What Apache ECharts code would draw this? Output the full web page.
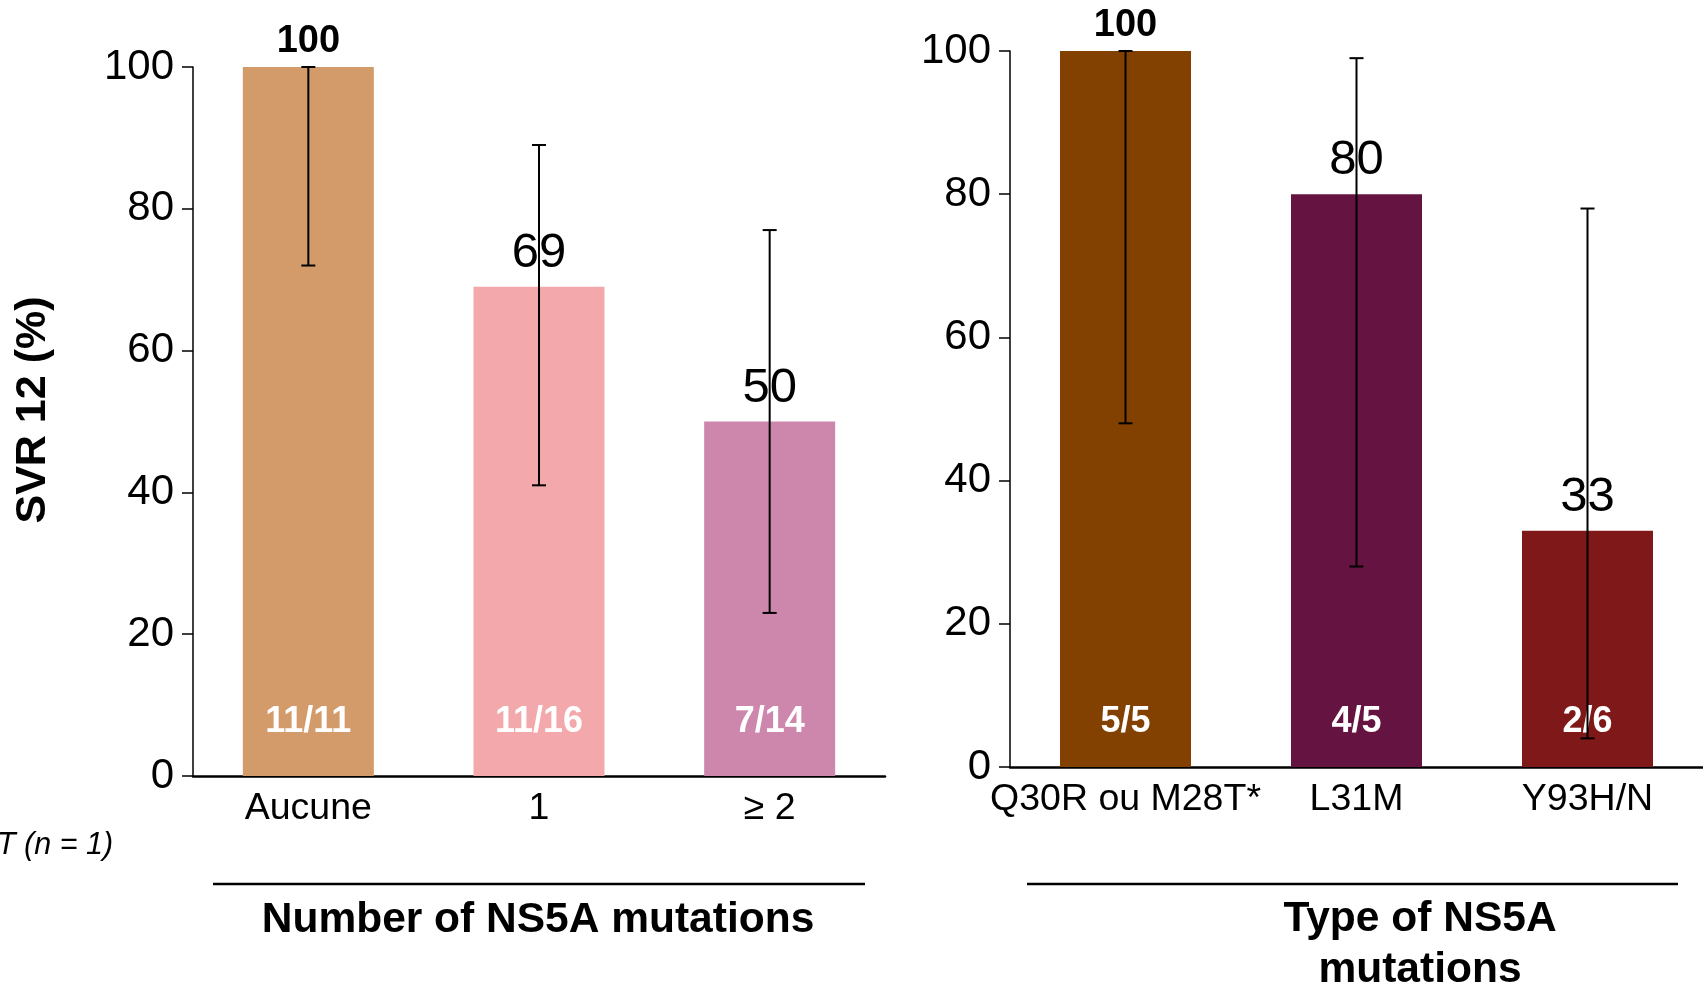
<!DOCTYPE html>
<html>
<head>
<meta charset="utf-8">
<title>SVR 12 by NS5A mutations</title>
<script src="https://cdn.jsdelivr.net/npm/echarts@6/dist/echarts.min.js"></script>
<style>
  html, body { margin: 0; padding: 0; background: #fff; }
  #chart { width: 1703px; height: 984px; }
</style>
</head>
<body>
<div id="chart"></div>
<script>
// left panel: number of NS5A mutations
const countCategories = ['Aucune', '1', '≥ 2'];
const countSvr = [100, 69, 50];
const countLow = [72, 41, 23];
const countHigh = [100, 89, 77];
const countFractions = ['11/11', '11/16', '7/14'];

// right panel: type of NS5A mutation
const typeCategories = ['Q30R ou M28T*', 'L31M', 'Y93H/N'];
const typeSvr = [100, 80, 33];
const typeLow = [48, 28, 4];
const typeHigh = [100, 99, 78];
const typeFractions = ['5/5', '4/5', '2/6'];

const yTicks = [0, 20, 40, 60, 80, 100];

const countColors = ['#D39B6A', '#F3A8AC', '#CD87AD'];
const typeColors = ['#834101', '#651340', '#7F1818'];

const FONT = '"Liberation Sans", Arial, sans-serif';

const chart = echarts.init(document.getElementById('chart'));

function errorBar(params, api) {
  const x = api.value(0);
  const lo = api.coord([x, api.value(1)]);
  const hi = api.coord([x, api.value(2)]);
  const w = 7;
  const style = { stroke: '#000', lineWidth: 2 };
  return {
    type: 'group',
    children: [
      { type: 'line', shape: { x1: hi[0], y1: hi[1], x2: lo[0], y2: lo[1] }, style },
      { type: 'line', shape: { x1: hi[0] - w, y1: hi[1], x2: hi[0] + w, y2: hi[1] }, style },
      { type: 'line', shape: { x1: lo[0] - w, y1: lo[1], x2: lo[0] + w, y2: lo[1] }, style }
    ]
  };
}

function yAxis(gridIndex) {
  return {
    gridIndex,
    type: 'value',
    min: yTicks[0],
    max: yTicks[yTicks.length - 1],
    interval: yTicks[1] - yTicks[0],
    axisLine: { show: true, lineStyle: { color: '#000', width: 1.5 } },
    axisTick: { show: true, length: 11, lineStyle: { color: '#000', width: 1.5 } },
    splitLine: { show: false },
    axisLabel: { fontSize: 42, color: '#000', margin: 19, fontFamily: FONT }
  };
}

function xAxis(gridIndex, data) {
  return {
    gridIndex,
    type: 'category',
    data,
    axisLine: { lineStyle: { color: '#000', width: 2.5 } },
    axisTick: { show: false },
    axisLabel: { interval: 0, hideOverlap: false, fontSize: 37.5, color: '#000', margin: 14, fontFamily: FONT }
  };
}

function panelSeries(idx, values, low, high, fractions, colors, fracDistance) {
  return [
    {
      type: 'bar',
      xAxisIndex: idx,
      yAxisIndex: idx,
      data: values,
      barWidth: 131,
      itemStyle: { color: p => colors[p.dataIndex] },
      label: {
        show: true,
        position: 'top',
        distance: 9,
        color: '#000',
        formatter: p => (p.value === 100 ? '{b|' + p.value + '}' : '{n|' + p.value + '}'),
        rich: {
          b: { fontSize: 38, fontWeight: 'bold', lineHeight: 32, fontFamily: FONT, color: '#000' },
          n: { fontSize: 49, lineHeight: 49, fontFamily: FONT, color: '#000' }
        }
      },
      z: 2
    },
    {
      type: 'bar',
      xAxisIndex: idx,
      yAxisIndex: idx,
      data: values,
      barWidth: 131,
      barGap: '-100%',
      silent: true,
      itemStyle: { color: 'rgba(0,0,0,0)' },
      label: {
        show: true,
        position: 'insideBottom',
        distance: fracDistance,
        formatter: p => fractions[p.dataIndex],
        color: '#fff',
        fontWeight: 'bold',
        fontSize: 36,
        lineHeight: 36,
        fontFamily: FONT
      },
      z: 3
    },
    {
      type: 'custom',
      xAxisIndex: idx,
      yAxisIndex: idx,
      renderItem: errorBar,
      data: values.map((v, i) => [i, low[i], high[i]]),
      z: 5
    }
  ];
}

const option = {
  animation: false,
  textStyle: { fontFamily: FONT },
  grid: [
    { left: 193, top: 67, width: 692, height: 709 },
    { left: 1010, top: 51, width: 693, height: 716 }
  ],
  xAxis: [xAxis(0, countCategories), xAxis(1, typeCategories)],
  yAxis: [yAxis(0), yAxis(1)],
  series: [
    ...panelSeries(0, countSvr, countLow, countHigh, countFractions, countColors, 36),
    ...panelSeries(1, typeSvr, typeLow, typeHigh, typeFractions, typeColors, 27)
  ],
  graphic: [
    {
      type: 'text',
      x: 33,
      y: 410,
      rotation: Math.PI / 2,
      style: {
        text: 'SVR 12 (%)',
        fontSize: 43,
        fontWeight: 'bold',
        fontFamily: FONT,
        fill: '#000',
        textAlign: 'center',
        textVerticalAlign: 'middle'
      }
    },
    {
      type: 'text',
      x: -3,
      y: 846,
      style: {
        text: 'T (n = 1)',
        fontSize: 30.5,
        fontStyle: 'italic',
        fontFamily: FONT,
        fill: '#000',
        textAlign: 'left',
        textVerticalAlign: 'middle'
      }
    },
    {
      type: 'line',
      shape: { x1: 213, y1: 884, x2: 865, y2: 884 },
      style: { stroke: '#000', lineWidth: 2.5 }
    },
    {
      type: 'line',
      shape: { x1: 1027, y1: 884, x2: 1678, y2: 884 },
      style: { stroke: '#000', lineWidth: 2.5 }
    },
    {
      type: 'text',
      x: 538,
      y: 920,
      style: {
        text: 'Number of NS5A mutations',
        fontSize: 42.5,
        fontWeight: 'bold',
        fontFamily: FONT,
        fill: '#000',
        textAlign: 'center',
        textVerticalAlign: 'middle'
      }
    },
    {
      type: 'text',
      x: 1420,
      y: 894,
      style: {
        text: 'Type of NS5A\nmutations',
        fontSize: 42.5,
        lineHeight: 51,
        fontWeight: 'bold',
        fontFamily: FONT,
        fill: '#000',
        textAlign: 'center',
        textVerticalAlign: 'top'
      }
    }
  ]
};

chart.setOption(option);
window.addEventListener('resize', () => chart.resize());
</script>
</body>
</html>
